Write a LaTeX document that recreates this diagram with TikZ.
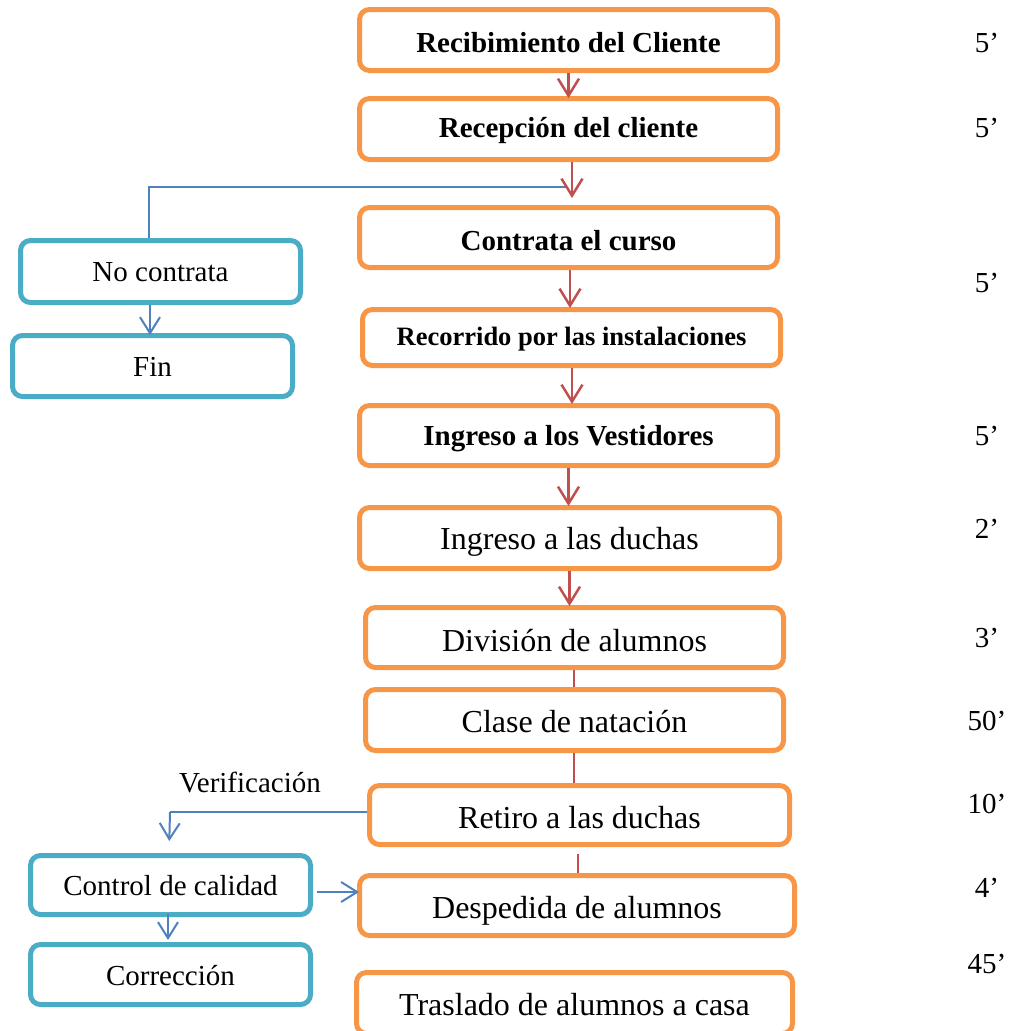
\documentclass[tikz,border=0pt]{standalone}
\usepackage{fontspec}
\setmainfont{Liberation Serif}
\usetikzlibrary{arrows.meta,calc}
\definecolor{borange}{HTML}{F79646}
\definecolor{bcyan}{HTML}{4BACC6}
\definecolor{lblue}{HTML}{4F81BD}
\definecolor{lred}{HTML}{C0504D}
\newcommand\lowtxt[2]{\raisebox{-#1}[\height][\depth]{#2}}
\tikzset{
  obox/.style={draw=borange,line width=5pt,rounded corners=10pt,fill=white,inner sep=0pt,align=center},
  cbox/.style={draw=bcyan,line width=5pt,rounded corners=10pt,fill=white,inner sep=0pt,align=center,
    minimum width=280pt,font=\fontsize{29}{34}\selectfont},
  bfs/.style={font=\fontsize{29}{34}\selectfont\bfseries},
  rgs/.style={font=\fontsize{32}{37}\selectfont},
  redarr/.style={draw=lred,line width=2.5pt,-{Straight Barb[length=17pt,width=21pt]}},
  redln/.style={draw=lred,line width=2.5pt},
  bluearr/.style={draw=lblue,line width=2pt,-{Straight Barb[length=16pt,width=20pt]}},
  blueln/.style={draw=lblue,line width=2pt},
  tlabel/.style={font=\fontsize{29}{34}\selectfont,inner sep=0pt},
}
\begin{document}
\begin{tikzpicture}[x=1pt,y=-1pt]
\useasboundingbox (0,0) rectangle (1009,1031);
% orange boxes
\node[obox,bfs,minimum width=418pt,minimum height=61pt] (b1) at (568.5,40) {\lowtxt{3pt}{Recibimiento del Cliente}};
\node[obox,bfs,minimum width=418pt,minimum height=61pt] (b2) at (568.5,129) {\lowtxt{2pt}{Recepción del cliente}};
\node[obox,bfs,minimum width=418pt,minimum height=60pt] (b3) at (568.5,237.5) {\lowtxt{3pt}{Contrata el curso}};
\node[obox,font=\fontsize{26.5}{31}\selectfont\bfseries,minimum width=418pt,minimum height=56pt] (b4) at (571.5,337.5) {\lowtxt{2pt}{Recorrido por las instalaciones}};
\node[obox,bfs,minimum width=418pt,minimum height=60pt] (b5) at (568.5,435.5) {\lowtxt{3pt}{Ingreso a los Vestidores}};
\node[obox,rgs,minimum width=420pt,minimum height=61pt] (b6) at (569.5,538) {\lowtxt{4pt}{Ingreso a las duchas}};
\node[obox,rgs,minimum width=418pt,minimum height=60pt] (b7) at (574.5,637.5) {\lowtxt{3pt}{División de alumnos}};
\node[obox,rgs,minimum width=418pt,minimum height=61pt] (b8) at (574.5,720) {\lowtxt{2pt}{Clase de natación}};
\node[obox,rgs,minimum width=420pt,minimum height=59pt] (b9) at (579.5,815) {\lowtxt{3pt}{Retiro a las duchas}};
\node[obox,rgs,minimum width=435pt,minimum height=60pt] (b10) at (577,905.5) {\lowtxt{5pt}{Despedida de alumnos}};
\node[obox,rgs,minimum width=436pt,minimum height=61pt] (b11) at (574.5,1003) {\lowtxt{2pt}{Traslado de alumnos a casa}};
% cyan boxes
\node[cbox,minimum height=62pt] (nc) at (160.5,271.5) {\lowtxt{1pt}{No contrata}};
\node[cbox,minimum height=61pt] (fin) at (152.5,366) {\lowtxt{1pt}{Fin}};
\node[cbox,minimum height=59pt] (ctrl) at (170.5,885) {\lowtxt{1pt}{Control de calidad}};
\node[cbox,minimum height=60pt] (corr) at (170.5,974.5) {\lowtxt{1pt}{Corrección}};
% times
\node[tlabel] (t1) at (987,43) {5’};
\node[tlabel] (t2) at (987,128) {5’};
\node[tlabel] (t3) at (987,283) {5’};
\node[tlabel] (t4) at (987,436) {5’};
\node[tlabel] (t5) at (987,529) {2’};
\node[tlabel] (t6) at (987,638) {3’};
\node[tlabel] (t7) at (987,721) {50’};
\node[tlabel] (t8) at (987,804) {10’};
\node[tlabel] (t9) at (987,888) {4’};
\node[tlabel] (t10) at (987,964) {45’};
% verification label
\node[tlabel] (ver) at (250,782) {Verificación};
% blue branch from Recepción
\coordinate (j1) at (567,187);
\draw[blueln] (j1) -- (j1 -| 149,0) -- ([xshift=-11.5pt]nc.north);
% red connectors
\draw[redarr,shorten >=-2pt] (b1.south) -- (b1.south |- b2.north);
\draw[redarr,shorten >=7pt] ([xshift=3.5pt]b2.south) -- ([xshift=3.5pt]b2.south |- b3.north);
\draw[redarr,shorten >=-1pt] ([xshift=1.5pt]b3.south) -- ([xshift=1.5pt]b3.south |- b4.north);
\draw[redarr,shorten >=-1pt] ([xshift=3.5pt]b5.north |- b4.south) -- ([xshift=3.5pt]b5.north);
\draw[redarr,shorten >=-1pt] (b5.south) -- (b5.south |- b6.north);
\draw[redarr,shorten >=-1pt] (b6.south) -- (b6.south |- b7.north);
\draw[redln] ([xshift=-0.5pt]b7.south) -- ([xshift=-0.5pt]b8.north);
\draw[redln] ([xshift=-0.5pt]b8.south) -- ([xshift=-0.5pt]b8.south |- b9.north);
\draw[redln,shorten <=7pt] ([xshift=1pt]b10.north |- b9.south) -- ([xshift=1pt]b10.north);
% cyan side connectors
\draw[bluearr,shorten >=-2pt] ([xshift=-10.5pt]nc.south) -- ([xshift=-10.5pt]nc.south |- fin.north);
\coordinate (v1) at (170,812);
\draw[blueln] ([yshift=3pt]b9.west) -- (v1);
\draw[bluearr,shorten >=12pt] (v1) -- ([xshift=-1.5pt]ctrl.north);
\draw[bluearr,shorten <=-3pt,shorten >=2pt] ([xshift=-2.5pt]ctrl.south) -- ([xshift=-2.5pt]corr.north);
\draw[bluearr,shorten <=4pt,shorten >=-2pt] ([yshift=-7pt]ctrl.east) -- ([yshift=-7pt]ctrl.east -| b10.west);
\end{tikzpicture}
\end{document}
